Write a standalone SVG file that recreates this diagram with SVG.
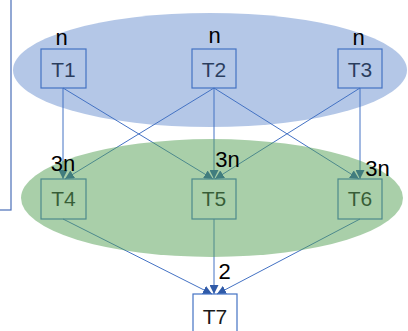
<svg xmlns="http://www.w3.org/2000/svg" width="408" height="331" viewBox="0 0 408 331">
<defs>
<style>
.box{fill:none;stroke:#4472c4;stroke-width:1.2}
.nt{font-family:"Liberation Sans",Arial,sans-serif;font-size:21px;fill:#1a1a1a;text-anchor:middle}
.lb{font-family:"Liberation Sans",Arial,sans-serif;font-size:22px;fill:#000;text-anchor:middle}
.ed{stroke:#4472c4;stroke-width:1;fill:none;marker-end:url(#ah)}
</style>
<marker id="ah" markerUnits="userSpaceOnUse" markerWidth="10" markerHeight="9" refX="9" refY="4.5" orient="auto">
<path d="M0,0 L9,4.5 L0,9 z" fill="#2f5aa8"/>
</marker>
</defs>
<rect x="-10" y="-10" width="21" height="220" fill="none" stroke="#4a6fb8" stroke-width="1.2"/>
<g id="connectors">
<line class="ed" x1="63" y1="88" x2="63" y2="179"/>
<line class="ed" x1="63" y1="88" x2="213" y2="179"/>
<line class="ed" x1="214" y1="88" x2="65" y2="179"/>
<line class="ed" x1="214" y1="88" x2="214" y2="179"/>
<line class="ed" x1="214" y1="88" x2="359" y2="179"/>
<line class="ed" x1="360" y1="88" x2="215" y2="179"/>
<line class="ed" x1="360" y1="88" x2="360" y2="179"/>
<line class="ed" x1="63" y1="219" x2="212" y2="294"/>
<line class="ed" x1="214" y1="219" x2="214" y2="294"/>
<line class="ed" x1="360" y1="219" x2="217" y2="294"/>
</g>
<g id="T1"><rect class="box" x="41" y="49" width="45" height="39"/><text class="nt" x="63.5" y="77">T1</text></g>
<g id="T2"><rect class="box" x="192" y="49" width="44" height="39"/><text class="nt" x="214" y="77">T2</text></g>
<g id="T3"><rect class="box" x="338" y="49" width="44" height="39"/><text class="nt" x="360" y="77">T3</text></g>
<g id="T4"><rect class="box" x="41" y="179" width="45" height="40"/><text class="nt" x="63.5" y="206">T4</text></g>
<g id="T5"><rect class="box" x="192" y="179" width="44" height="40"/><text class="nt" x="214" y="206">T5</text></g>
<g id="T6"><rect class="box" x="338" y="179" width="44" height="40"/><text class="nt" x="360" y="206">T6</text></g>
<ellipse cx="210" cy="70" rx="197" ry="57" fill="#4472c4" fill-opacity="0.4"/>
<ellipse cx="212" cy="198" rx="191" ry="59" fill="#54a054" fill-opacity="0.5"/>
<g id="T7"><rect class="box" x="193" y="294" width="44" height="45" fill="#fff"/><text class="nt" x="215" y="324">T7</text></g>
<g id="labels">
<text class="lb" x="61.5" y="45">n</text>
<text class="lb" x="214.5" y="43">n</text>
<text class="lb" x="358.5" y="45">n</text>
<text class="lb" x="63" y="171">3n</text>
<text class="lb" x="227.5" y="167">3n</text>
<text class="lb" x="377.5" y="176">3n</text>
<text class="lb" x="224.5" y="279">2</text>
</g>
</svg>
